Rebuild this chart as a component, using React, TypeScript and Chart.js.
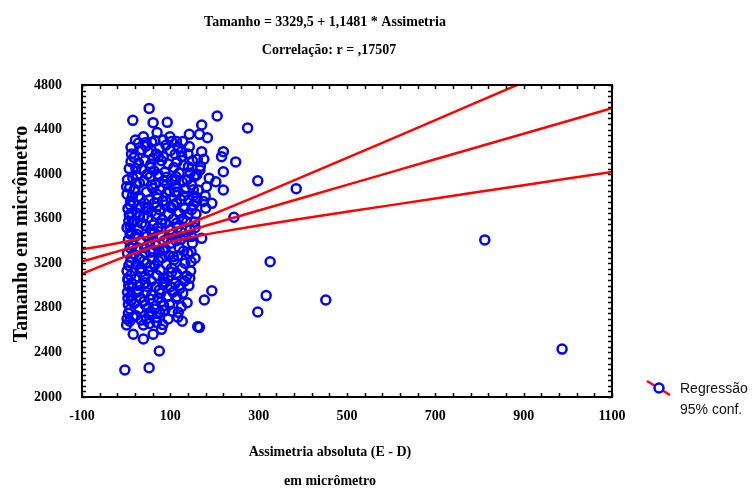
import React, { useEffect, useRef } from "react";
import { Chart, registerables } from "chart.js";

Chart.register(...registerables);

// ---- texts ----
const titleLines = ["Tamanho = 3329,5 + 1,1481 * Assimetria", "Correlação: r = ,17507"];
const xTitleLines = ["Assimetria absoluta (E - D)", "em micrômetro"];
const yTitle = "Tamanho em micrômetro";
const legendLabels = ["Regressão", "95% conf."];

// ---- axes ----
const xMin = -100;
const xMax = 1100;
const xTickStep = 40;
const xLabelStep = 200;
const yMin = 2000;
const yMax = 4800;
const yTickStep = 50;
const yLabelStep = 400;

// ---- observations: [assimetria absoluta, tamanho] ----
const amostras: [number, number][] = [
  [52,4590],[15,4483],[61,4462],[93,4465],[70,4374],[171,4441],[206,4522],[275,4415],
  [99,4336],[39,4336],[21,4306],[143,4357],[166,4357],[184,4327],[128,4292],[114,4292],
  [103,4292],[84,4306],[58,4286],[43,4282],[11,4241],[35,4217],[143,4247],[171,4202],
  [220,4202],[216,4157],[248,4110],[176,4134],[161,4134],[126,4157],[111,4178],[84,4157],
  [61,4142],[73,4157],[11,4112],[28,4097],[35,4043],[56,4091],[141,4067],[167,4037],
  [188,3963],[203,3932],[220,4022],[298,3940],[220,3858],[154,3977],[113,3977],[92,3972],
  [55,3977],[15,3963],[1,3887],[18,3858],[60,3873],[114,3887],[148,3903],[163,3858],
  [182,3887],[33,3783],[71,3783],[92,3828],[131,3804],[152,3804],[179,3804],[194,3738],
  [9,3723],[45,3693],[69,3708],[88,3723],[107,3723],[152,3723],[158,3642],[244,3613],
  [7,3633],[39,3618],[61,3543],[9,3528],[114,3559],[137,3573],[171,3424],
  [168,4070],[160,3995],[160,3790],[175,3755],[180,3695],[156,3520],[156,3245],
  [9,3463],[60,3463],[124,3415],[326,3214],[15,3364],[43,3295],[61,3304],[84,3313],
  [107,3259],[147,3304],[147,3214],[133,3200],[10,3214],[35,3155],[54,3170],[73,3223],
  [103,3155],[4,3050],[13,3020],[43,3026],[84,3065],[111,3020],[137,3086],[144,3065],
  [122,2975],[28,2954],[58,2915],[75,2960],[194,2954],[177,2871],[317,2910],[298,2763],
  [4,2886],[11,2864],[43,2826],[80,2855],[113,2886],[138,2846],[5,2751],[16,2716],
  [52,2751],[69,2716],[117,2716],[1,2646],[39,2646],[80,2607],[162,2631],[166,2625],
  [16,2563],[61,2563],[39,2521],[75,2413],[-3,2242],[52,2263],
  [987,2430],[812,3410],[452,2870],[385,3870],
  [3,3950],[8,3880],[2,3820],[10,3760],[4,3690],[12,3650],[6,3580],[2,3520],[11,3480],
  [5,3410],[9,3340],[3,3290],[12,3250],[6,3180],[2,3130],[10,3090],[7,2990],[3,2940],
  [12,2910],[5,2830],[9,2790],[2,2700],[8,2680],[6,3000],[4,3060],[13,3560],[14,3800],
  [7,4050],[12,4180],
  [18,4150],[22,4050],[25,3990],[30,3920],[20,3860],[28,3800],[17,3740],[32,3700],
  [24,3650],[19,3580],[35,3560],[27,3500],[21,3440],[33,3400],[26,3340],[18,3280],
  [30,3240],[23,3190],[34,3120],[20,3060],[28,3000],[25,2940],[32,2890],[18,2840],
  [29,2790],[22,2730],[34,2690],[30,3620],[23,3920],[35,4220],[28,4280],[24,3460],[31,3150],
  [45,4250],[50,4200],[42,4120],[55,4060],[48,4000],[40,3940],[58,3900],[46,3840],
  [52,3770],[41,3740],[57,3660],[49,3610],[44,3540],[56,3500],[47,3440],[53,3380],
  [42,3340],[58,3250],[46,3200],[51,3130],[43,3080],[57,3040],[49,2990],[45,2940],
  [54,2880],[41,2860],[50,2800],[58,2760],[46,2700],[53,2660],[48,3700],[55,3300],[40,3220],
  [65,4300],[75,4230],[68,4180],[80,4120],[63,4030],[72,4000],[85,3940],[66,3910],
  [78,3860],[70,3820],[83,3760],[64,3740],[76,3680],[68,3640],[82,3590],[72,3520],
  [63,3480],[79,3450],[85,3400],[67,3360],[75,3310],[82,3250],[64,3180],[77,3140],
  [70,3090],[84,3010],[66,2990],[78,2930],[72,2890],[85,2820],[64,2790],[76,2760],
  [69,2670],[83,2650],[80,3560],[73,3980],
  [90,4260],[100,4210],[95,4090],[108,4060],[88,4020],[104,3940],[92,3910],[98,3850],
  [110,3840],[90,3760],[102,3700],[96,3640],[107,3600],[89,3560],[99,3500],[105,3460],
  [93,3420],[101,3380],[88,3330],[97,3270],[108,3230],[91,3190],[103,3120],[95,3080],
  [89,3030],[100,2990],[106,2940],[93,2900],[98,2830],[88,2780],[104,2770],[95,2700],
  [118,4240],[125,4200],[115,4110],[130,4080],[120,4010],[112,3950],[127,3930],[133,3870],
  [118,3840],[124,3770],[114,3740],[132,3690],[120,3650],[128,3600],[116,3520],[124,3480],
  [134,3440],[113,3400],[120,3340],[130,3310],[117,3270],[126,3150],[114,3110],[132,3040],
  [120,3000],[128,2930],[115,2900],[125,2810],[118,2760],[127,2680],
  [140,4180],[150,4120],[145,4010],[158,3990],[138,3950],[152,3860],[142,3770],[160,3760],
  [148,3680],[140,3640],[155,3570],[145,3500],[150,3380],[140,3290],[146,3130],[142,3000],
  [148,3440],
];

// ---- regression line and 95% confidence band ----
const linhaX = [-100, -50, 0, 50, 100, 150, 200, 300, 400, 500, 600, 700, 800, 900, 1000, 1100];
const regressaoY = [3214.7, 3272.1, 3329.5, 3386.9, 3444.3, 3501.7, 3559.1, 3673.9, 3788.7, 3903.6, 4018.4, 4133.2, 4248.0, 4362.8, 4477.6, 4592.4];
const confSupY = [3325, 3358, 3395, 3440, 3497, 3568, 3645, 3809, 3977, 4146, 4315, 4485, 4655, 4825, 4995, 5165];
const confInfY = [3105, 3186, 3264, 3334, 3391, 3436, 3473, 3539, 3601, 3662, 3722, 3781, 3841, 3901, 3960, 4019];

const BLUE = "#0000ff";
const RED = "#ff0000";
const SERIF = "'Liberation Serif', 'Times New Roman', serif";
const SANS = "'Liberation Sans', Arial, sans-serif";

const decorPlugin = {
  id: "decor",
  afterDraw(chart: any) {
    const { ctx, chartArea: a, scales } = chart;
    const xs = scales.x;
    const ys = scales.y;
    ctx.save();
    // frame
    ctx.strokeStyle = "#000";
    ctx.lineWidth = 2;
    ctx.strokeRect(a.left, a.top, a.right - a.left, a.bottom - a.top);
    // inward tick marks on all four sides
    ctx.lineWidth = 1.5;
    ctx.beginPath();
    const tl = 4;
    xs.ticks.forEach((t: any) => {
      const px = Math.round(xs.getPixelForValue(t.value)) + 0.5;
      ctx.moveTo(px, a.bottom);
      ctx.lineTo(px, a.bottom - tl);
      ctx.moveTo(px, a.top);
      ctx.lineTo(px, a.top + tl);
    });
    ys.ticks.forEach((t: any) => {
      const py = Math.round(ys.getPixelForValue(t.value)) + 0.5;
      ctx.moveTo(a.left, py);
      ctx.lineTo(a.left + tl, py);
      ctx.moveTo(a.right, py);
      ctx.lineTo(a.right - tl, py);
    });
    ctx.stroke();

    // titles
    ctx.fillStyle = "#000";
    ctx.textAlign = "center";
    ctx.textBaseline = "middle";
    ctx.font = `bold 14px ${SERIF}`;
    ctx.fillText(titleLines[0], 325, 22);
    ctx.fillText(titleLines[1], 329, 50);
    ctx.fillText(xTitleLines[0], 330, 452);
    ctx.fillText(xTitleLines[1], 330, 481);

    // y title
    ctx.save();
    ctx.translate(22, 234);
    ctx.rotate(-Math.PI / 2);
    ctx.font = `bold 20px ${SERIF}`;
    ctx.fillText(yTitle, 0, 0);
    ctx.restore();

    // legend
    ctx.strokeStyle = RED;
    ctx.lineWidth = 2.5;
    ctx.beginPath();
    ctx.moveTo(647, 381);
    ctx.lineTo(670, 395);
    ctx.stroke();
    ctx.strokeStyle = BLUE;
    ctx.lineWidth = 2.5;
    ctx.fillStyle = "#fff";
    ctx.beginPath();
    ctx.arc(659, 388, 4.5, 0, Math.PI * 2);
    ctx.fill();
    ctx.stroke();
    ctx.fillStyle = "#111";
    ctx.textAlign = "left";
    ctx.font = `14px ${SANS}`;
    ctx.fillText(legendLabels[0], 680, 389);
    ctx.fillText(legendLabels[1], 680, 410);
    ctx.restore();
  },
};

export default function App() {
  const ref = useRef<HTMLCanvasElement | null>(null);

  useEffect(() => {
    if (!ref.current) return;
    const lineDs = (ys: number[]) => ({
      data: linhaX.map((x, i) => ({ x, y: ys[i] })),
      showLine: true,
      borderColor: RED,
      borderWidth: 2.5,
      pointRadius: 0,
      fill: false,
      order: 0,
    });
    const chart = new Chart(ref.current, {
      type: "scatter",
      data: {
        datasets: [
          {
            data: amostras.map(([x, y]) => ({ x, y })),
            pointRadius: 4.5,
            pointBorderWidth: 2.5,
            borderColor: BLUE,
            backgroundColor: "rgba(0,0,0,0)",
            pointStyle: "circle",
            order: 1,
          } as any,
          lineDs(regressaoY),
          lineDs(confSupY),
          lineDs(confInfY),
        ],
      },
      options: {
        animation: false,
        responsive: false,
        devicePixelRatio: 1,
        layout: { padding: { top: 85, right: 140, left: 0, bottom: 0 } },
        plugins: { legend: { display: false }, tooltip: { enabled: false }, title: { display: false } },
        scales: {
          x: {
            type: "linear",
            min: xMin,
            max: xMax,
            afterFit: (s: any) => {
              s.height = 91;
            },
            grid: { display: false, drawTicks: false },
            border: { display: false },
            ticks: {
              stepSize: xTickStep,
              autoSkip: false,
              maxRotation: 0,
              minRotation: 0,
              padding: 11,
              color: "#000",
              font: { family: SERIF, weight: "bold", size: 14 },
              callback: (v: any) => {
                const r = Math.round(Number(v));
                return (r - xMin) % xLabelStep === 0 ? String(r) : "";
              },
            },
          },
          y: {
            type: "linear",
            min: yMin,
            max: yMax,
            afterFit: (s: any) => {
              s.width = 82;
            },
            grid: { display: false, drawTicks: false },
            border: { display: false },
            ticks: {
              stepSize: yTickStep,
              autoSkip: false,
              padding: 20,
              color: "#000",
              font: { family: SERIF, weight: "bold", size: 14 },
              callback: (v: any) => {
                const r = Math.round(Number(v));
                return (r - yMin) % yLabelStep === 0 ? String(r) : "";
              },
            },
          },
        },
      } as any,
      plugins: [decorPlugin],
    });
    return () => chart.destroy();
  }, []);

  return (
    <div style={{ position: "fixed", left: 0, top: 0, width: 752, height: 488, background: "#fff" }}>
      <canvas ref={ref} width={752} height={488} style={{ width: 752, height: 488, display: "block" }} />
    </div>
  );
}
